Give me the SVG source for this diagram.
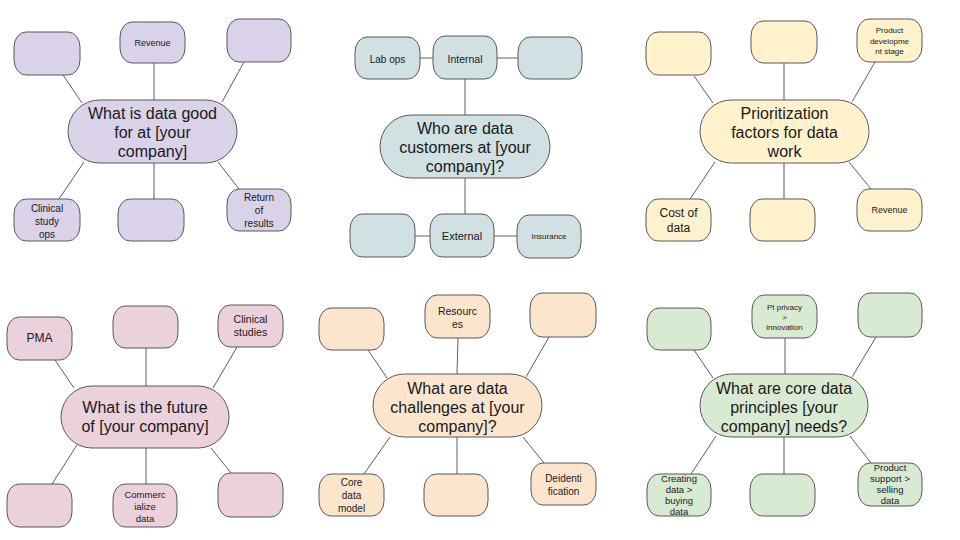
<svg xmlns="http://www.w3.org/2000/svg" width="960" height="540" viewBox="0 0 960 540">
<style>
text{font-family:"Liberation Sans",Arial,sans-serif;fill:#1a1a1a;text-anchor:middle}
.n{stroke:#595959;stroke-width:1}
.t{font-size:16px}
.s8{font-size:8px}.s9{font-size:9px}.s95{font-size:9.5px}.s10{font-size:10px}.s105{font-size:10.5px}.s11{font-size:11px}.s12{font-size:12px}
.c1{fill:#d9d2e9}.c2{fill:#d0e0e3}.c3{fill:#fff2cc}.c4{fill:#ead1dc}.c5{fill:#fce5cd}.c6{fill:#d9ead3}
#connectors line{stroke:#5f5f5f;stroke-width:1}
</style>
<rect width="960" height="540" fill="#ffffff"/>
<g id="connectors">
<line x1="63" y1="75" x2="82" y2="103"/>
<line x1="154" y1="63" x2="154" y2="100"/>
<line x1="244" y1="62" x2="222" y2="102"/>
<line x1="84" y1="162" x2="59" y2="199"/>
<line x1="154" y1="163" x2="154" y2="199"/>
<line x1="218" y1="162" x2="239" y2="189"/>
<line x1="420" y1="58" x2="433" y2="58"/>
<line x1="497" y1="58" x2="518" y2="58"/>
<line x1="465" y1="79" x2="465" y2="115"/>
<line x1="465" y1="178" x2="465" y2="214"/>
<line x1="415" y1="236" x2="430" y2="236"/>
<line x1="494" y1="236" x2="517" y2="236"/>
<line x1="694" y1="76" x2="713" y2="103"/>
<line x1="784" y1="63" x2="784" y2="100"/>
<line x1="875" y1="62" x2="852" y2="102"/>
<line x1="715" y1="162" x2="690" y2="199"/>
<line x1="784" y1="163" x2="784" y2="199"/>
<line x1="849" y1="162" x2="871" y2="189"/>
<line x1="55" y1="360" x2="74" y2="388"/>
<line x1="146" y1="348" x2="146" y2="386"/>
<line x1="237" y1="347" x2="213" y2="388"/>
<line x1="77" y1="445" x2="52" y2="484"/>
<line x1="146" y1="448" x2="146" y2="484"/>
<line x1="211" y1="448" x2="231" y2="473"/>
<line x1="368" y1="350" x2="387" y2="378"/>
<line x1="458" y1="338" x2="457" y2="374"/>
<line x1="549" y1="337" x2="526" y2="377"/>
<line x1="390" y1="437" x2="364" y2="474"/>
<line x1="457" y1="437" x2="457" y2="474"/>
<line x1="523" y1="437" x2="544" y2="463"/>
<line x1="694" y1="350" x2="713" y2="378"/>
<line x1="785" y1="338" x2="785" y2="374"/>
<line x1="876" y1="337" x2="852" y2="377"/>
<line x1="716" y1="436" x2="691" y2="474"/>
<line x1="784" y1="437" x2="784" y2="474"/>
<line x1="850" y1="436" x2="871" y2="463"/>
</g>
<!-- Cluster 1 -->
<g id="c1-center"><rect class="n c1" x="68" y="100" width="169" height="63" rx="31.5" ry="31.5"/><text class="t" x="152.5" y="119">What is data good</text><text class="t" x="152.5" y="138">for at [your</text><text class="t" x="152.5" y="157">company]</text></g>
<g id="c1-tl"><rect class="n c1" x="14" y="32" width="66" height="43" rx="12" ry="15"/></g>
<g id="c1-revenue"><rect class="n c1" x="120" y="22" width="65" height="41" rx="12" ry="15"/><text class="s9" x="152.5" y="46">Revenue</text></g>
<g id="c1-tr"><rect class="n c1" x="227" y="19" width="64" height="43" rx="12" ry="15"/></g>
<g id="c1-clinical"><rect class="n c1" x="14" y="199" width="66" height="42" rx="12" ry="15"/><text class="s10" x="47" y="211.5">Clinical</text><text class="s10" x="47" y="224.5">study</text><text class="s10" x="47" y="237.5">ops</text></g>
<g id="c1-bc"><rect class="n c1" x="118" y="199" width="66" height="42" rx="12" ry="15"/></g>
<g id="c1-return"><rect class="n c1" x="227" y="189" width="64" height="42" rx="12" ry="15"/><text class="s10" x="259" y="200.5">Return</text><text class="s10" x="259" y="213.5">of</text><text class="s10" x="259" y="226.5">results</text></g>
<!-- Cluster 2 -->
<g id="c2-center"><rect class="n c2" x="380" y="115" width="170" height="63" rx="31.5" ry="31.5"/><text class="t" x="465" y="134">Who are data</text><text class="t" x="465" y="153">customers at [your</text><text class="t" x="465" y="172">company]?</text></g>
<g id="c2-labops"><rect class="n c2" x="355" y="37" width="65" height="42" rx="12" ry="15"/><text class="s10" x="387.5" y="62.5">Lab ops</text></g>
<g id="c2-internal"><rect class="n c2" x="433" y="36" width="64" height="43" rx="12" ry="15"/><text class="s105" x="465" y="62.5">Internal</text></g>
<g id="c2-tr"><rect class="n c2" x="518" y="37" width="64" height="42" rx="12" ry="15"/></g>
<g id="c2-bl"><rect class="n c2" x="350" y="214" width="65" height="43" rx="12" ry="15"/></g>
<g id="c2-external"><rect class="n c2" x="430" y="214" width="64" height="43" rx="12" ry="15"/><text class="s11" x="462" y="240">External</text></g>
<g id="c2-insurance"><rect class="n c2" x="517" y="215" width="64" height="43" rx="12" ry="15"/><text class="s8" x="549" y="239">Insurance</text></g>
<!-- Cluster 3 -->
<g id="c3-center"><rect class="n c3" x="700" y="100" width="169" height="63" rx="31.5" ry="31.5"/><text class="t" x="784.5" y="119">Prioritization</text><text class="t" x="784.5" y="138">factors for data</text><text class="t" x="784.5" y="157">work</text></g>
<g id="c3-tl"><rect class="n c3" x="646" y="32" width="65" height="43" rx="12" ry="15"/></g>
<g id="c3-tc"><rect class="n c3" x="751" y="21" width="66" height="42" rx="12" ry="15"/></g>
<g id="c3-product"><rect class="n c3" x="857" y="19" width="65" height="43" rx="12" ry="15"/><text class="s8" x="889.5" y="33">Product</text><text class="s8" x="889.5" y="44">developme</text><text class="s8" x="889.5" y="54">nt stage</text></g>
<g id="c3-cost"><rect class="n c3" x="646" y="199" width="65" height="42" rx="12" ry="15"/><text class="s12" x="678.5" y="217">Cost of</text><text class="s12" x="678.5" y="232">data</text></g>
<g id="c3-bc"><rect class="n c3" x="750" y="199" width="65" height="42" rx="12" ry="15"/></g>
<g id="c3-revenue"><rect class="n c3" x="857" y="189" width="65" height="42" rx="12" ry="15"/><text class="s9" x="889.5" y="213">Revenue</text></g>
<!-- Cluster 4 -->
<g id="c4-center"><rect class="n c4" x="61" y="386" width="168" height="62" rx="31" ry="31"/><text class="t" x="145" y="413">What is the future</text><text class="t" x="145" y="432">of [your company]</text></g>
<g id="c4-pma"><rect class="n c4" x="7" y="317" width="65" height="43" rx="12" ry="15"/><text class="s12" x="39.5" y="342">PMA</text></g>
<g id="c4-tc"><rect class="n c4" x="113" y="306" width="65" height="42" rx="12" ry="15"/></g>
<g id="c4-clinical"><rect class="n c4" x="218" y="305" width="65" height="42" rx="12" ry="15"/><text class="s105" x="250.5" y="323">Clinical</text><text class="s105" x="250.5" y="336">studies</text></g>
<g id="c4-bl"><rect class="n c4" x="7" y="484" width="65" height="43" rx="12" ry="15"/></g>
<g id="c4-commercialize"><rect class="n c4" x="113" y="484" width="64" height="43" rx="12" ry="15"/><text class="s95" x="145" y="497.5">Commerc</text><text class="s95" x="145" y="509.5">ialize</text><text class="s95" x="145" y="521.5">data</text></g>
<g id="c4-br"><rect class="n c4" x="218" y="473" width="65" height="44" rx="12" ry="15"/></g>
<!-- Cluster 5 -->
<g id="c5-center"><rect class="n c5" x="373" y="374" width="169" height="63" rx="31.5" ry="31.5"/><text class="t" x="457.5" y="394">What are data</text><text class="t" x="457.5" y="413">challenges at [your</text><text class="t" x="457.5" y="432">company]?</text></g>
<g id="c5-tl"><rect class="n c5" x="319" y="308" width="65" height="42" rx="12" ry="15"/></g>
<g id="c5-resources"><rect class="n c5" x="425" y="295" width="65" height="43" rx="12" ry="15"/><text class="s105" x="457.5" y="315">Resourc</text><text class="s105" x="457.5" y="328">es</text></g>
<g id="c5-tr"><rect class="n c5" x="530" y="293" width="66" height="44" rx="12" ry="15"/></g>
<g id="c5-core"><rect class="n c5" x="319" y="474" width="65" height="42" rx="12" ry="15"/><text class="s10" x="351.5" y="485.5">Core</text><text class="s10" x="351.5" y="498.5">data</text><text class="s10" x="351.5" y="511.5">model</text></g>
<g id="c5-bc"><rect class="n c5" x="424" y="474" width="64" height="42" rx="12" ry="15"/></g>
<g id="c5-deid"><rect class="n c5" x="531" y="463" width="65" height="42" rx="12" ry="15"/><text class="s10" x="563.5" y="481.5">Deidenti</text><text class="s10" x="563.5" y="494.5">fication</text></g>
<!-- Cluster 6 -->
<g id="c6-center"><rect class="n c6" x="700" y="374" width="168" height="63" rx="31.5" ry="31.5"/><text class="t" x="784" y="394">What are core data</text><text class="t" x="784" y="413">principles [your</text><text class="t" x="784" y="432">company] needs?</text></g>
<g id="c6-tl"><rect class="n c6" x="647" y="308" width="64" height="42" rx="12" ry="15"/></g>
<g id="c6-privacy"><rect class="n c6" x="752" y="295" width="65" height="43" rx="12" ry="15"/><text class="s8" x="784.5" y="310">Pt privacy</text><text class="s8" x="784.5" y="320">&gt;</text><text class="s8" x="784.5" y="330">innovation</text></g>
<g id="c6-tr"><rect class="n c6" x="858" y="293" width="64" height="44" rx="12" ry="15"/></g>
<g id="c6-creating"><rect class="n c6" x="647" y="474" width="64" height="42" rx="12" ry="15"/><text class="s95" x="679" y="482">Creating</text><text class="s95" x="679" y="493">data &gt;</text><text class="s95" x="679" y="504">buying</text><text class="s95" x="679" y="515">data</text></g>
<g id="c6-bc"><rect class="n c6" x="750" y="474" width="65" height="42" rx="12" ry="15"/></g>
<g id="c6-product"><rect class="n c6" x="858" y="463" width="64" height="43" rx="12" ry="15"/><text class="s95" x="890" y="471">Product</text><text class="s95" x="890" y="482">support &gt;</text><text class="s95" x="890" y="493">selling</text><text class="s95" x="890" y="504">data</text></g>
</svg>
